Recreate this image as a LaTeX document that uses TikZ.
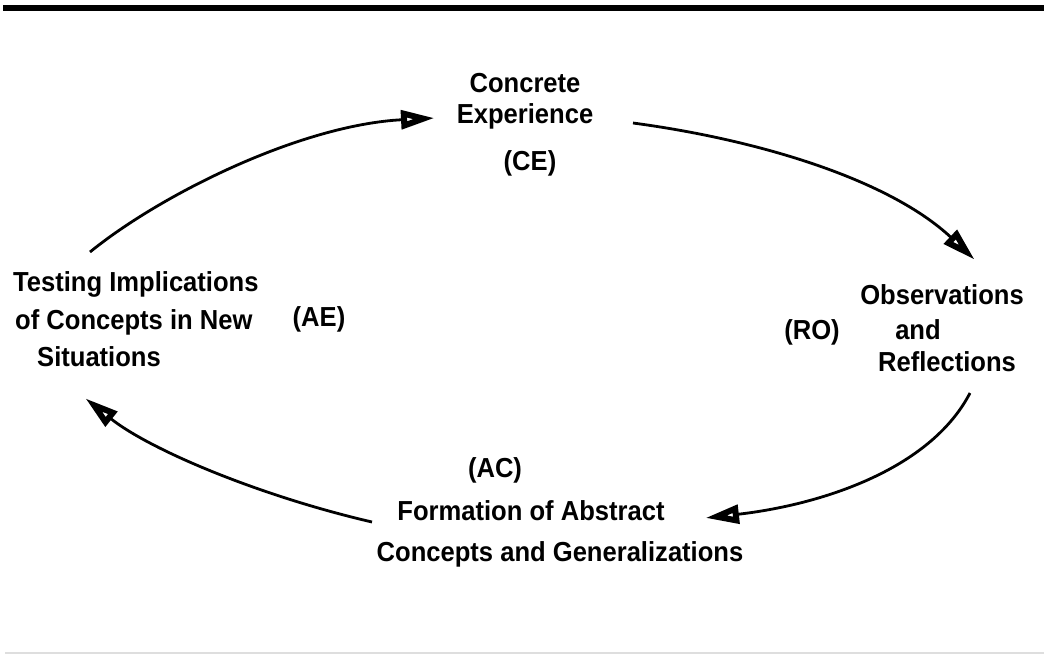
\documentclass[tikz,border=0pt]{standalone}
\usepackage{fontspec}
\setmainfont{Liberation Sans}[FakeStretch=0.93]
\usetikzlibrary{arrows.meta}
\begin{document}
\begin{tikzpicture}[x=1pt,y=-1pt,
  lbl/.style={inner sep=0pt, anchor=base, font=\fontsize{27.5}{30}\selectfont\bfseries},
  lbll/.style={lbl, anchor=base west},
  cyc/.style={line width=2.8pt, -{Triangle[open,length=34pt,width=18pt,line width=6pt]}}
]
\useasboundingbox[fill=white] (0,0) rectangle (1044,654);
\draw[line width=6pt] (3,8) -- (1044,8);
\draw[black!13, line width=1.5pt] (5,653) -- (1044,653);

% Concrete Experience
\node[lbl] (ce1) at (525,92) {Concrete};
\node[lbl] (ce2) at (525,123) {Experience};
\node[lbl] (ce) at (530,170) {(CE)};

% Observations and Reflections
\node[lbl] (ro1) at (942,304) {Observations};
\node[lbl] (ro2) at (918,339) {and};
\node[lbl] (ro3) at (947,371) {Reflections};
\node[lbl] (ro) at (812,339) {(RO)};

% Formation of Abstract Concepts
\node[lbl] (ac) at (495,477) {(AC)};
\node[lbl] (ac1) at (531,520) {Formation of Abstract};
\node[lbl] (ac2) at (560,561) {Concepts and Generalizations};

% Testing Implications
\node[lbll] (ae1) at (13,291) {Testing Implications};
\node[lbll] (ae2) at (15,329) {of Concepts in New};
\node[lbll] (ae3) at (37,366) {Situations};
\node[lbl] (ae) at (319,326) {(AE)};

% connector ends
\coordinate (ae-out) at (90,252);
\coordinate (ce-in) at (435,118);
\coordinate (ce-out) at (633,123);
\coordinate (ro-in) at (975,260);
\coordinate (ro-out) at (970,393);
\coordinate (ac-in) at (705,518);
\coordinate (ac-out) at (372,522);
\coordinate (ae-in) at (85,398);

\draw[cyc] (ae-out) .. controls (160,195) and (300,125) .. (ce-in);
\draw[cyc] (ce-out) .. controls (760,140) and (890,180) .. (ro-in);
\draw[cyc] (ro-out) .. controls (930,470) and (820,505) .. (ac-in);
\draw[cyc] (ac-out) .. controls (260,496) and (150,450) .. (ae-in);
\end{tikzpicture}
\end{document}
